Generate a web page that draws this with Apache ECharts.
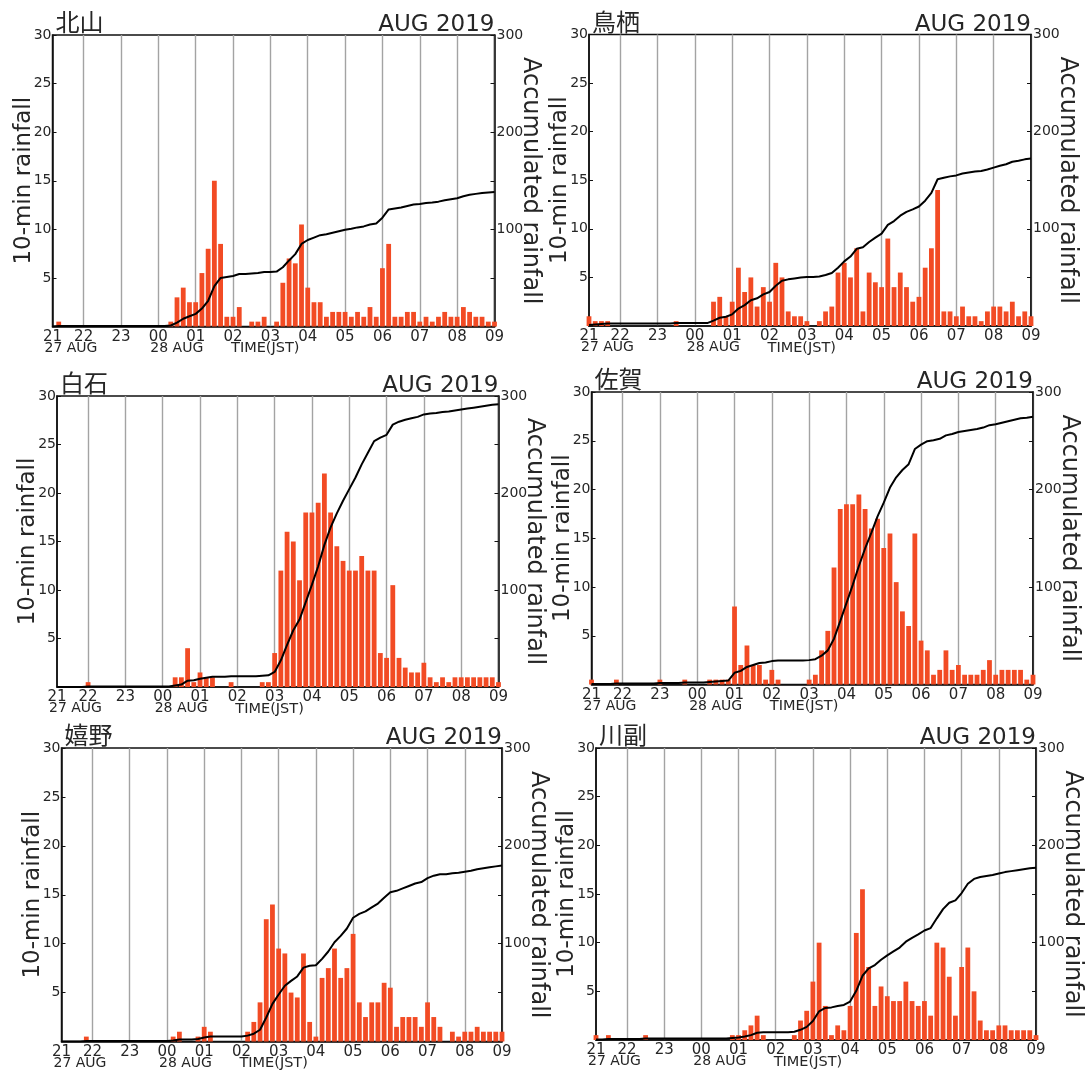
<!DOCTYPE html>
<html>
<head>
<meta charset="utf-8">
<script src="https://cdn.jsdelivr.net/npm/echarts@6/dist/echarts.min.js"></script>
<style>
  html, body { margin: 0; padding: 0; background: #fff; }
  #chart { width: 1088px; height: 1070px; }
</style>
</head>
<body>
<div id="chart"></div>
<script>
const hourLabels = ['21', '22', '23', '00', '01', '02', '03', '04', '05', '06', '07', '08', '09']

// 10-min slots, 21:10 (27 AUG) .. 09:00 (28 AUG)
const times = []
hourLabels.forEach((h, k) => {
  for (let m = 0; m < 60; m += 10) {
    if (k === 0 && m === 0) continue
    if (k === hourLabels.length - 1 && m > 0) break
    times.push(h + ':' + String(m).padStart(2, '0'))
  }
})

const stations = ['北山', '鳥栖', '白石', '佐賀', '嬉野', '川副']

// 10-min rainfall (mm); rows: 21:10-21:50, then one row per hour, last value 09:00
const rainKitayama = [
  0, 0.5, 0, 0, 0,
  0, 0, 0, 0, 0, 0,
  0, 0, 0, 0, 0, 0,
  0, 0, 0.5, 3, 4, 2.5,
  2.5, 5.5, 8, 15, 8.5, 1,
  1, 2, 0, 0.5, 0.5, 1,
  0, 0.5, 4.5, 7, 6.5, 10.5,
  4, 2.5, 2.5, 1, 1.5, 1.5,
  1.5, 1, 1.5, 1, 2, 1,
  6, 8.5, 1, 1, 1.5, 1.5,
  0.5, 1, 0.5, 1, 1.5, 1,
  1, 2, 1.5, 1, 1, 0.5,
  0.5,
]
const rainTosu = [
  1, 0.5, 0.5, 0.5, 0,
  0, 0, 0, 0, 0, 0,
  0, 0, 0, 0.5, 0, 0,
  0, 0, 0, 2.5, 3, 1,
  2.5, 6, 3.5, 5, 2, 4,
  2.5, 6.5, 5, 1.5, 1, 1,
  0.5, 0, 0.5, 1.5, 2, 5.5,
  6.5, 5, 8, 1.5, 5.5, 4.5,
  4, 9, 4, 5.5, 4, 2.5,
  3, 6, 8, 14, 1.5, 1.5,
  1, 2, 1, 1, 0.5, 1.5,
  2, 2, 1.5, 2.5, 1, 1.5,
  1,
]
const rainShiroishi = [
  0, 0, 0, 0, 0,
  0.5, 0, 0, 0, 0, 0,
  0, 0, 0, 0, 0, 0,
  0, 0, 1, 1, 4, 0.5,
  1.5, 1, 1, 0, 0, 0.5,
  0, 0, 0, 0, 0.5, 0.5,
  3.5, 12, 16, 15, 11, 18,
  18, 19, 22, 18, 14.5, 13,
  12, 12, 13.5, 12, 12, 3.5,
  3, 10.5, 3, 2, 1.5, 1.5,
  2.5, 1, 0.5, 1, 0.5, 1,
  1, 1, 1, 1, 1, 1,
  0.5,
]
const rainSaga = [
  0.5, 0, 0, 0, 0.5,
  0, 0, 0, 0, 0, 0,
  0.5, 0, 0, 0, 0.5, 0,
  0, 0, 0.5, 0.5, 0.5, 0.5,
  8, 2, 4, 2, 2, 0.5,
  1.5, 0.5, 0, 0, 0, 0,
  0.5, 1, 3.5, 5.5, 12, 18,
  18.5, 18.5, 19.5, 18, 16, 17,
  14, 15.5, 10.5, 7.5, 6, 15.5,
  4.5, 3.5, 1, 1.5, 3.5, 1.5,
  2, 1, 1, 1, 1.5, 2.5,
  1, 1.5, 1.5, 1.5, 1.5, 0.5,
  1,
]
const rainUreshino = [
  0, 0, 0, 0, 0.5,
  0, 0, 0, 0, 0, 0,
  0, 0, 0, 0, 0, 0,
  0, 0.5, 1, 0, 0, 0.5,
  1.5, 1, 0, 0, 0, 0,
  0, 1, 2, 4, 12.5, 14,
  9.5, 9, 5, 4.5, 9, 2,
  0.5, 6.5, 7.5, 9.5, 6.5, 7.5,
  11, 4, 2.5, 4, 4, 6,
  5.5, 1.5, 2.5, 2.5, 2.5, 1.5,
  4, 2.5, 1.5, 0, 1, 0.5,
  1, 1, 1.5, 1, 1, 1,
  1,
]
const rainKawasoe = [
  0.5, 0, 0.5, 0, 0,
  0, 0, 0, 0.5, 0, 0,
  0, 0, 0, 0, 0, 0,
  0, 0, 0, 0, 0, 0.5,
  0.5, 1, 1.5, 2.5, 0.5, 0,
  0, 0, 0, 0.5, 2, 3,
  6, 10, 3.5, 0.5, 1.5, 1,
  3.5, 11, 15.5, 7.5, 3.5, 5.5,
  4.5, 4, 4, 6, 4, 3.5,
  4, 2.5, 10, 9.5, 6.5, 2.5,
  7.5, 9.5, 5, 2, 1, 1,
  1.5, 1.5, 1, 1, 1, 1,
  0.5,
]
const rain = [rainKitayama, rainTosu, rainShiroishi, rainSaga, rainUreshino, rainKawasoe]

// accumulated rainfall = running total of the 10-min values
const accumulate = (arr) => {
  let s = 0
  return arr.map((v) => (s += v))
}

// plot boxes, px
const panels = [
  { left: 52.5, top: 35, width: 442, height: 291.5 },
  { left: 589, top: 34.5, width: 442, height: 291.5 },
  { left: 57, top: 396, width: 441.5, height: 291 },
  { left: 591.5, top: 392, width: 441.5, height: 292.5 },
  { left: 61.5, top: 748, width: 440.5, height: 293.5 },
  { left: 596, top: 748, width: 440, height: 292 },
]

const FONT = '"DejaVu Sans", sans-serif'
const CJK = '"Noto Sans CJK JP", sans-serif'
const INK = '#262626'
const isHour = (i) => (i - 5) % 6 === 0

const chart = echarts.init(document.getElementById('chart'))

const option = {
  animation: false,
  backgroundColor: '#fff',
  textStyle: { fontFamily: FONT },
  grid: [],
  xAxis: [],
  yAxis: [],
  series: [],
}

panels.forEach((p, k) => {
  option.grid.push({
    left: p.left,
    top: p.top,
    width: p.width,
    height: p.height,
    show: true,
    borderColor: '#111',
    borderWidth: 1.5,
  })
  option.xAxis.push({
    type: 'category',
    gridIndex: k,
    data: times,
    boundaryGap: false,
    axisLine: { lineStyle: { color: '#111', width: 1.5 } },
    axisTick: { show: false },
    axisLabel: {
      interval: (i) => i === 0 || isHour(i),
      formatter: (v) => v.slice(0, 2),
      color: INK,
      fontSize: 15,
      margin: 3,
      fontFamily: FONT,
    },
    splitLine: {
      show: true,
      interval: (i) => i > 0 && isHour(i),
      lineStyle: { color: '#a3a3a3', width: 1.4 },
    },
  })
  option.yAxis.push(
    {
      type: 'value',
      gridIndex: k,
      position: 'left',
      min: 0,
      max: 30,
      interval: 5,
      axisLine: { show: true, lineStyle: { color: '#111', width: 1.5 } },
      axisTick: { show: true, inside: true, length: 4, lineStyle: { color: '#111' } },
      axisLabel: {
        formatter: (v) => (v === 0 ? '' : v),
        color: INK,
        fontSize: 14,
        margin: 1,
        fontFamily: FONT,
      },
      splitLine: { show: false },
      name: '10-min rainfall',
      nameLocation: 'middle',
      nameMoveOverlap: false,
      nameGap: 17,
      nameTextStyle: { fontSize: 23, color: INK, fontFamily: FONT },
    },
    {
      type: 'value',
      gridIndex: k,
      position: 'right',
      min: 0,
      max: 300,
      interval: 50,
      axisLine: { show: true, lineStyle: { color: '#111', width: 1.5 } },
      axisTick: { show: true, inside: true, length: 4, lineStyle: { color: '#111' } },
      axisLabel: {
        formatter: (v) => (v > 0 && v % 100 === 0 ? v : ''),
        color: INK,
        fontSize: 14,
        margin: 2,
        fontFamily: FONT,
      },
      splitLine: { show: false },
      name: 'Accumulated rainfall',
      nameLocation: 'middle',
      nameMoveOverlap: false,
      nameRotate: -90,
      nameGap: 24,
      nameTextStyle: { fontSize: 24, color: INK, fontFamily: FONT },
    }
  )
  option.series.push(
    {
      type: 'bar',
      xAxisIndex: k,
      yAxisIndex: 2 * k,
      data: rain[k],
      barWidth: 4.8,
      itemStyle: { color: '#f24b24' },
      silent: true,
    },
    {
      type: 'line',
      xAxisIndex: k,
      yAxisIndex: 2 * k + 1,
      data: accumulate(rain[k]),
      symbol: 'none',
      lineStyle: { color: '#000', width: 2 },
      z: 5,
      silent: true,
    }
  )
})

chart.setOption(option)

const txt = (s, x, y, size, family, align) => ({
  type: 'text',
  x,
  y,
  silent: true,
  style: {
    text: s,
    fill: INK,
    fontSize: size,
    fontFamily: family,
    align,
    textAlign: align,
    verticalAlign: 'top',
    textVerticalAlign: 'top',
  },
})

const graphic = []
panels.forEach((p, k) => {
  const base = p.top + p.height
  const px = (t) => chart.convertToPixel({ xAxisIndex: k }, t)
  graphic.push(
    txt(stations[k], p.left + 3, p.top - 25, 24, CJK, 'left'),
    txt('AUG 2019', p.left + p.width, p.top - 21, 23, FONT, 'right'),
    txt('27 AUG', px(times[0]) - 8, base + 14.5, 14, FONT, 'left'),
    txt('28 AUG', px('00:00') - 8, base + 14.5, 14, FONT, 'left'),
    txt('TIME(JST)', px('02:00') - 2, base + 14.5, 14.5, FONT, 'left')
  )
})
chart.setOption({ graphic })
</script>
</body>
</html>
